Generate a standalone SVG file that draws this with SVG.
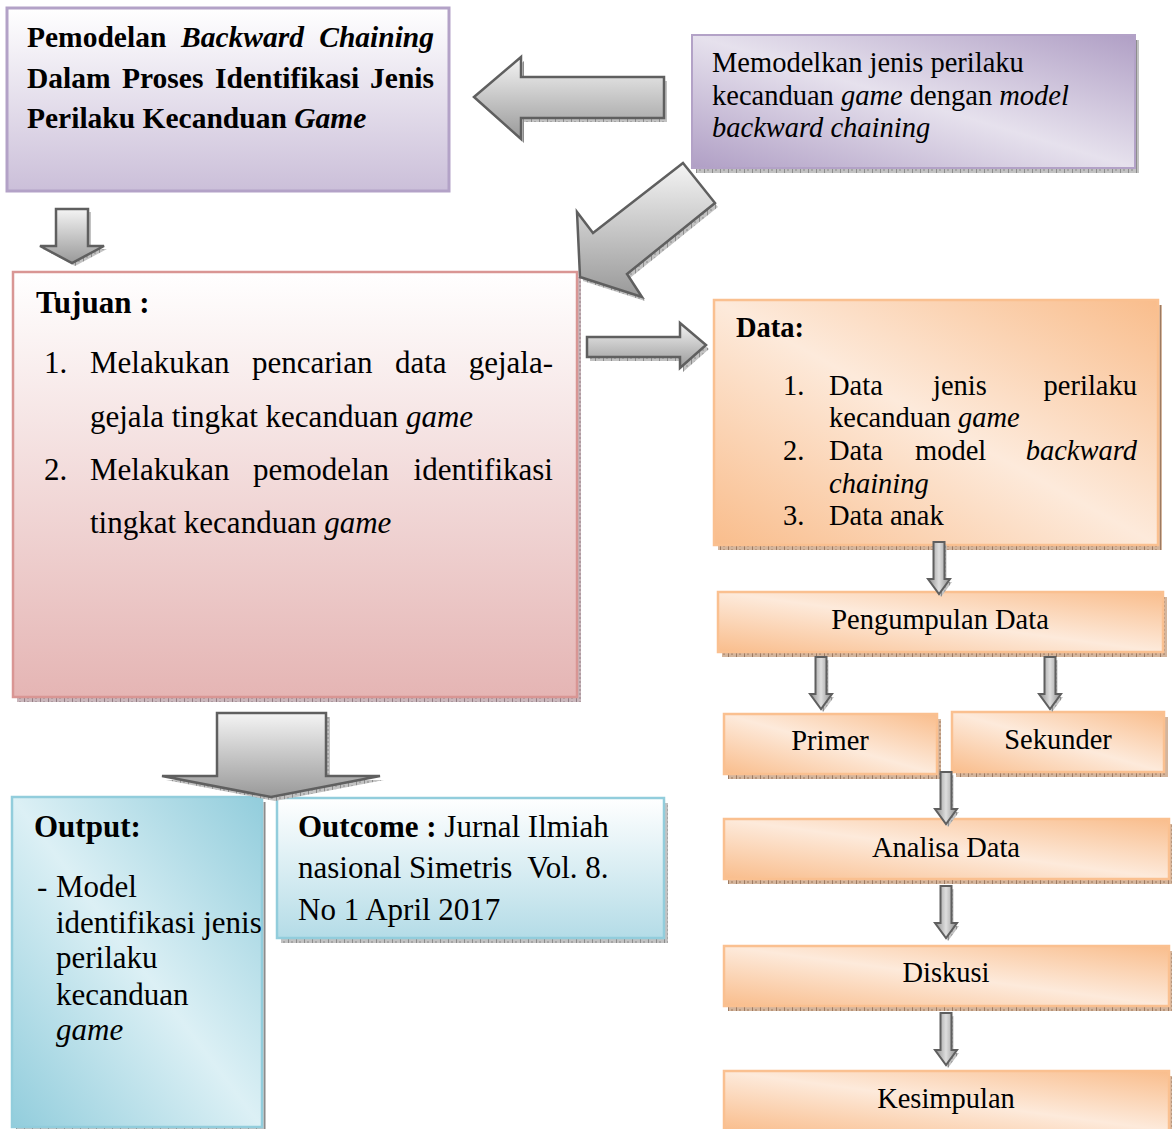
<svg xmlns="http://www.w3.org/2000/svg" width="1172" height="1129" viewBox="0 0 1172 1129">
  <style>
    text { font-family: "Liberation Serif", "Times New Roman", serif; fill: #000; }
    .b { font-weight: bold; }
    .i { font-style: italic; }
    .f28 { font-size: 28.5px; }
    .f29 { font-size: 29.5px; }
    .f31 { font-size: 31px; }
    .mid { text-anchor: middle; }
    .end { text-anchor: end; }
    .big { fill: url(#grayGrad); stroke: #5f5f5f; stroke-width: 2.5; stroke-linejoin: miter; }
    .small { fill: url(#grayBar); stroke: #5f5f5f; stroke-width: 2; }
    .shade { fill: url(#hatchGray); }
    .flowbox { fill: url(#orangeDiag); stroke: #fac090; stroke-width: 2.5; }
  </style>
  <defs>
    <linearGradient id="titleGrad" x1="0" y1="0" x2="0" y2="1">
      <stop offset="0" stop-color="#ffffff"/>
      <stop offset="1" stop-color="#cbbfd9"/>
    </linearGradient>
    <linearGradient id="purpleDiag" x1="1" y1="0" x2="0" y2="1">
      <stop offset="0" stop-color="#b09fc5"/>
      <stop offset="0.5" stop-color="#e6e1ed"/>
      <stop offset="1" stop-color="#b09fc5"/>
    </linearGradient>
    <linearGradient id="tujuanGrad" x1="0" y1="0" x2="0" y2="1">
      <stop offset="0" stop-color="#ffffff"/>
      <stop offset="1" stop-color="#e5b5b4"/>
    </linearGradient>
    <linearGradient id="orangeDiag" x1="1" y1="0" x2="0" y2="1">
      <stop offset="0" stop-color="#f9bd8c"/>
      <stop offset="0.5" stop-color="#fdeadb"/>
      <stop offset="1" stop-color="#f9bd8c"/>
    </linearGradient>
    <linearGradient id="blueDiag" x1="1" y1="0" x2="0" y2="1">
      <stop offset="0" stop-color="#92cddc"/>
      <stop offset="0.5" stop-color="#dcf0f5"/>
      <stop offset="1" stop-color="#92cddc"/>
    </linearGradient>
    <linearGradient id="outcomeGrad" x1="0" y1="0" x2="0" y2="1">
      <stop offset="0" stop-color="#ffffff"/>
      <stop offset="1" stop-color="#b4dce7"/>
    </linearGradient>
    <linearGradient id="grayGrad" x1="0" y1="0" x2="0" y2="1">
      <stop offset="0" stop-color="#f4f4f4"/>
      <stop offset="1" stop-color="#999999"/>
    </linearGradient>
    <linearGradient id="grayBar" x1="0" y1="0" x2="1" y2="0">
      <stop offset="0" stop-color="#8a8a8a"/>
      <stop offset="0.5" stop-color="#dedede"/>
      <stop offset="1" stop-color="#8a8a8a"/>
    </linearGradient>
    <pattern id="hatchGray" width="8" height="4" patternUnits="userSpaceOnUse">
      <rect width="8" height="4" fill="#c2c2c2"/>
      <rect width="1" height="4" fill="#8c8c8c"/>
      <rect x="3" y="1" width="2" height="2" fill="#a6a6a6"/>
    </pattern>
    <pattern id="hatchBrown" width="8" height="4" patternUnits="userSpaceOnUse">
      <rect width="8" height="4" fill="#d4b59c"/>
      <rect width="1" height="4" fill="#9c7a62"/>
      <rect x="3" y="1" width="2" height="2" fill="#b8967c"/>
    </pattern>
    <pattern id="hatchRose" width="8" height="4" patternUnits="userSpaceOnUse">
      <rect width="8" height="4" fill="#c9b6bb"/>
      <rect width="1" height="4" fill="#957f86"/>
      <rect x="3" y="1" width="2" height="2" fill="#ae9aa0"/>
    </pattern>
    <!-- thin downward arrow used between the process steps -->
    <path id="stepArrow" d="M-5.5,0 H5.5 V37 H11 L0,52 L-11,37 H-5.5 Z"/>
  </defs>

  <rect width="1172" height="1129" fill="#ffffff"/>

  <!-- Title -->
  <g id="title">
    <rect x="7" y="8" width="442" height="183" fill="url(#titleGrad)" stroke="#b3a2c7" stroke-width="3"/>
    <text class="f29 b" y="47"><tspan x="27">Pemodelan</tspan><tspan x="181" class="i">Backward</tspan></text>
    <text class="f29 b i end" x="434" y="47">Chaining</text>
    <text class="f29 b" y="88"><tspan x="27">Dalam</tspan><tspan x="122">Proses</tspan><tspan x="215">Identifikasi</tspan></text>
    <text class="f29 b end" x="434" y="88">Jenis</text>
    <text class="f29 b" x="27" y="128">Perilaku Kecanduan <tspan class="i">Game</tspan></text>
  </g>

  <!-- Method -->
  <g id="method">
    <rect x="696" y="40" width="443" height="133" fill="url(#hatchGray)"/>
    <rect x="692" y="35" width="443" height="133" fill="url(#purpleDiag)" stroke="#b3a2c7" stroke-width="2"/>
    <text class="f28" x="712" y="72">Memodelkan jenis perilaku</text>
    <text class="f28" x="712" y="105">kecanduan <tspan class="i">game</tspan> dengan <tspan class="i">model</tspan></text>
    <text class="f28 i" x="712" y="137">backward chaining</text>
  </g>

  <!-- Goals -->
  <g id="tujuan">
    <rect x="17" y="277" width="564" height="425" fill="url(#hatchRose)"/>
    <rect x="13" y="272" width="564" height="425" fill="url(#tujuanGrad)" stroke="#d99694" stroke-width="2.5"/>
    <text class="f31 b" x="36" y="313">Tujuan :</text>
    <text class="f31" y="373"><tspan x="44">1.</tspan><tspan x="90">Melakukan</tspan><tspan x="252">pencarian</tspan><tspan x="395">data</tspan></text>
    <text class="f31 end" x="553" y="373">gejala-</text>
    <text class="f31" x="90" y="427">gejala tingkat kecanduan <tspan class="i">game</tspan></text>
    <text class="f31" y="480"><tspan x="44">2.</tspan><tspan x="90">Melakukan</tspan><tspan x="253">pemodelan</tspan></text>
    <text class="f31 end" x="553" y="480">identifikasi</text>
    <text class="f31" x="90" y="533">tingkat kecanduan <tspan class="i">game</tspan></text>
  </g>

  <!-- Data -->
  <g id="data">
    <rect x="718" y="305" width="444" height="245" fill="url(#hatchBrown)"/>
    <rect x="714" y="300" width="444" height="245" fill="url(#orangeDiag)" stroke="#fac090" stroke-width="2.5"/>
    <text class="f28 b" x="736" y="337">Data:</text>
    <text class="f28" y="395"><tspan x="783">1.</tspan><tspan x="829">Data</tspan><tspan x="933">jenis</tspan></text>
    <text class="f28 end" x="1137" y="395">perilaku</text>
    <text class="f28" x="829" y="427">kecanduan <tspan class="i">game</tspan></text>
    <text class="f28" y="460"><tspan x="783">2.</tspan><tspan x="829">Data</tspan><tspan x="915">model</tspan></text>
    <text class="f28 i end" x="1137" y="460">backward</text>
    <text class="f28 i" x="829" y="493">chaining</text>
    <text class="f28" y="525"><tspan x="783">3.</tspan><tspan x="829">Data anak</tspan></text>
  </g>

  <!-- Process steps -->
  <g id="pengumpulan">
    <rect x="722" y="597" width="445" height="60" fill="url(#hatchBrown)"/>
    <rect x="718" y="592" width="445" height="60" class="flowbox"/>
    <text class="f28 mid" x="940" y="629">Pengumpulan Data</text>
  </g>
  <g id="primer">
    <rect x="728" y="719" width="213" height="60" fill="url(#hatchBrown)"/>
    <rect x="724" y="714" width="213" height="60" class="flowbox"/>
    <text class="f28 mid" x="830" y="750">Primer</text>
  </g>
  <g id="sekunder">
    <rect x="956" y="717" width="212" height="60" fill="url(#hatchBrown)"/>
    <rect x="952" y="712" width="212" height="60" class="flowbox"/>
    <text class="f28 mid" x="1058" y="749">Sekunder</text>
  </g>
  <g id="analisa">
    <rect x="728" y="824" width="445" height="60" fill="url(#hatchBrown)"/>
    <rect x="724" y="819" width="445" height="60" class="flowbox"/>
    <text class="f28 mid" x="946" y="857">Analisa Data</text>
  </g>
  <g id="diskusi">
    <rect x="728" y="951" width="445" height="60" fill="url(#hatchBrown)"/>
    <rect x="724" y="946" width="445" height="60" class="flowbox"/>
    <text class="f28 mid" x="946" y="982">Diskusi</text>
  </g>
  <g id="kesimpulan">
    <rect x="728" y="1076" width="445" height="60" fill="url(#hatchBrown)"/>
    <rect x="724" y="1071" width="445" height="60" class="flowbox"/>
    <text class="f28 mid" x="946" y="1108">Kesimpulan</text>
  </g>

  <!-- Output -->
  <g id="output">
    <rect x="16" y="802" width="250" height="330" fill="url(#hatchGray)"/>
    <rect x="12" y="797" width="250" height="330" fill="url(#blueDiag)" stroke="#92cddc" stroke-width="2.5"/>
    <text class="f31 b" x="34" y="837">Output:</text>
    <text class="f31" y="897"><tspan x="37">-</tspan><tspan x="56">Model</tspan></text>
    <text class="f31" x="56" y="933">identifikasi jenis</text>
    <text class="f31" x="56" y="968">perilaku</text>
    <text class="f31" x="56" y="1005">kecanduan</text>
    <text class="f31 i" x="56" y="1040">game</text>
  </g>

  <!-- Outcome -->
  <g id="outcome">
    <rect x="281" y="803" width="387" height="140" fill="url(#hatchGray)"/>
    <rect x="277" y="798" width="387" height="140" fill="url(#outcomeGrad)" stroke="#92cddc" stroke-width="2.5"/>
    <text class="f31" x="298" y="837"><tspan class="b">Outcome :</tspan> Jurnal Ilmiah</text>
    <text class="f31" x="298" y="878" xml:space="preserve">nasional Simetris  Vol. 8.</text>
    <text class="f31" x="298" y="920">No 1 April 2017</text>
  </g>

  <!-- Connectors -->
  <g id="connectors">
    <!-- method -> title -->
    <path class="shade" transform="translate(3,4)" d="M474,97 L521,57 V77 H664 V118 H521 V139 Z"/>
    <path class="big" d="M474,97 L521,57 V77 H664 V118 H521 V139 Z"/>
    <!-- method -> goals -->
    <path class="shade" transform="translate(3,4)" d="M683,163 L715,203 L627,274 L642,297 L580,277 L577,212 L593,233 Z"/>
    <path class="big" d="M683,163 L715,203 L627,274 L642,297 L580,277 L577,212 L593,233 Z"/>
    <!-- title -> goals -->
    <path class="shade" transform="translate(3,3)" d="M56,209 H88 V246 H104 L72,263 L40,246 H56 Z"/>
    <path class="big" d="M56,209 H88 V246 H104 L72,263 L40,246 H56 Z"/>
    <!-- goals -> data -->
    <path class="shade" transform="translate(3,4)" d="M587,337 H680 V323 L706,345 L680,368 V357 H587 Z"/>
    <path class="big" d="M587,337 H680 V323 L706,345 L680,368 V357 H587 Z"/>
    <!-- goals -> output / outcome -->
    <path class="shade" transform="translate(4,4)" d="M217,713 H326 V776 H380 L271,797 L162,776 H217 Z"/>
    <path class="big" d="M217,713 H326 V776 H380 L271,797 L162,776 H217 Z"/>
    <!-- process flow -->
    <use href="#stepArrow" class="shade" transform="translate(941,545)"/>
    <use href="#stepArrow" class="small" transform="translate(939,542)"/>
    <use href="#stepArrow" class="shade" transform="translate(823,660)"/>
    <use href="#stepArrow" class="small" transform="translate(821,657)"/>
    <use href="#stepArrow" class="shade" transform="translate(1052,660)"/>
    <use href="#stepArrow" class="small" transform="translate(1050,657)"/>
    <use href="#stepArrow" class="shade" transform="translate(948,775)"/>
    <use href="#stepArrow" class="small" transform="translate(946,772)"/>
    <use href="#stepArrow" class="shade" transform="translate(948,889)"/>
    <use href="#stepArrow" class="small" transform="translate(946,886)"/>
    <use href="#stepArrow" class="shade" transform="translate(948,1016)"/>
    <use href="#stepArrow" class="small" transform="translate(946,1013)"/>
  </g>
</svg>
